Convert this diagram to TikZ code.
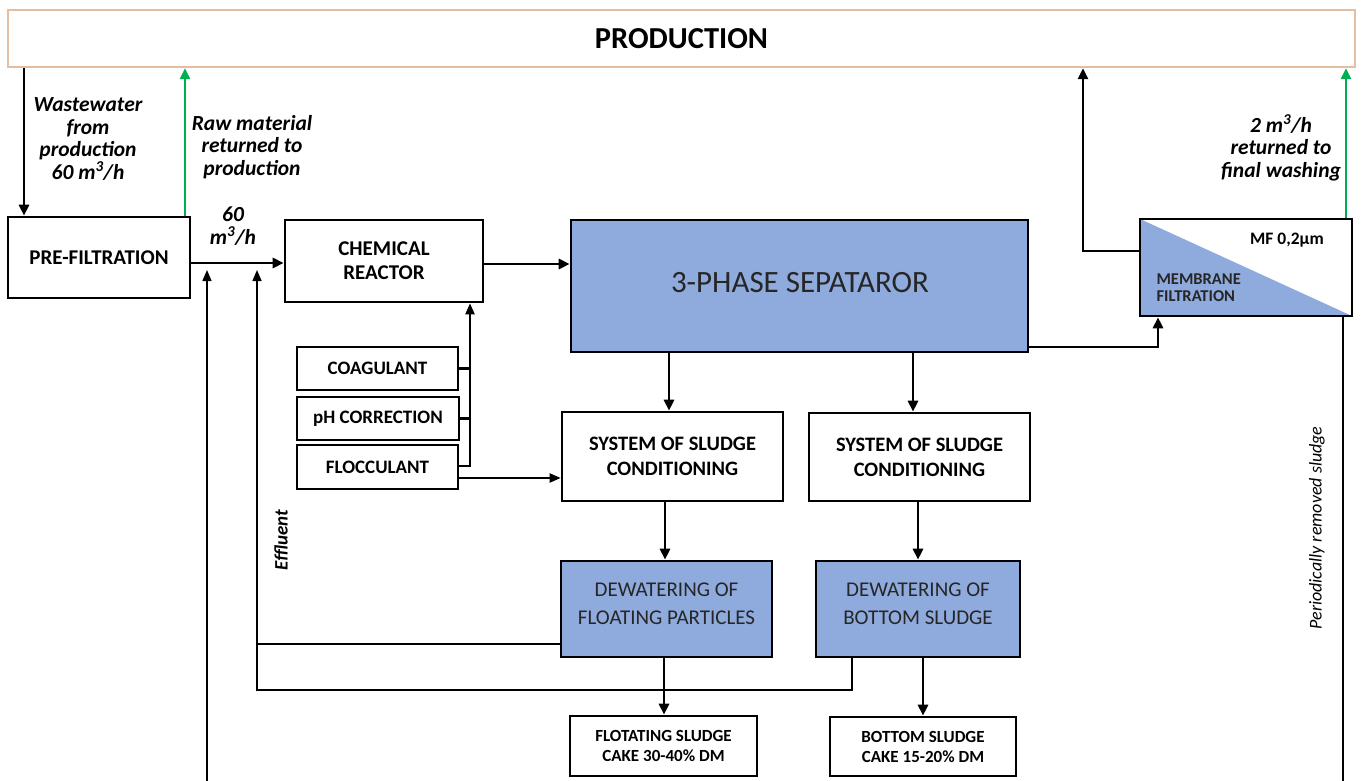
\documentclass[tikz,border=0pt]{standalone}
\usepackage{fontspec}
\setmainfont{Carlito}
\usetikzlibrary{arrows.meta}
\definecolor{sepblue}{RGB}{143,170,220}
\definecolor{flowgreen}{RGB}{0,176,80}
\definecolor{prodborder}{RGB}{228,190,160}
\tikzset{
  box/.style={draw=black, line width=2.6pt, inner sep=2pt, align=center, font=\fontsize{21}{24}\selectfont\bfseries},
  bluebox/.style={box, fill=sepblue, font=\fontsize{21}{28}\selectfont},
  smallbox/.style={box, font=\fontsize{19}{20}\selectfont\bfseries},
  thick arrow/.style={line width=2.9pt, -{Triangle[length=11pt,width=10pt]}},
  green arrow/.style={line width=2.9pt, draw=flowgreen, -{Triangle[length=11pt,width=10pt]}, color=flowgreen},
  thin line/.style={line width=1.5pt},
  thin arrow/.style={line width=2pt, -{Triangle[length=11pt,width=9pt]}},
  lab/.style={align=center, font=\fontsize{21.5}{22.7}\selectfont\bfseries\itshape},
}
\begin{document}
\begin{tikzpicture}[x=1pt,y=-1pt]
\useasboundingbox (0,0) rectangle (1363,781);
\fill[white] (0,0) rectangle (1363,781);
% production
\node[draw=prodborder, line width=2.4pt, minimum width=1347pt, minimum height=57pt, font=\fontsize{30.5}{34}\selectfont\bfseries] (prod) at (681.5,38.5) {PRODUCTION};
% boxes
\node[box, minimum width=182pt, minimum height=81pt] (pre) at (99,257.5) {PRE-FILTRATION};
\node[box, minimum width=198pt, minimum height=82pt] (reac) at (384,261) {CHEMICAL\\REACTOR};
\node[bluebox, minimum width=457pt, minimum height=132pt] (sep) at (799.5,286) {};
\node[font=\fontsize{31}{34}\selectfont, text=black!85] (sept) at (800,283) {3-PHASE SEPATAROR};
\node[draw=none, outer sep=1.3pt, minimum width=212pt, minimum height=97pt] (mem) at (1246,267.5) {};
\fill[sepblue] (1140,219) -- (1352,316) -- (1140,316) -- cycle;
\draw[line width=2.6pt] (1140,219) rectangle (1352,316);
\node[font=\fontsize{17.5}{18}\selectfont\bfseries] (mf) at (1287,240) {MF 0,2µm};
\node[font=\fontsize{16.5}{17}\selectfont\bfseries, align=left, anchor=west, text=black!85] (memt) at (1153,288) {MEMBRANE\\FILTRATION};
\node[smallbox, minimum width=161pt, minimum height=43pt] (coag) at (377.5,368.5) {COAGULANT};
\node[smallbox, minimum width=162pt, minimum height=43pt] (ph) at (378,418.5) {pH CORRECTION};
\node[smallbox, minimum width=161pt, minimum height=44pt] (floc) at (377.5,467) {FLOCCULANT};
\node[box, font=\fontsize{20.5}{25}\selectfont\bfseries, minimum width=221pt, minimum height=89pt] (sys1) at (672.5,456.5) {SYSTEM OF SLUDGE\\CONDITIONING};
\node[box, font=\fontsize{20.5}{25}\selectfont\bfseries, minimum width=221pt, minimum height=88pt] (sys2) at (919.5,457) {SYSTEM OF SLUDGE\\CONDITIONING};
\node[bluebox, minimum width=211pt, minimum height=96pt] (dw1) at (666.5,609) {};
\node[font=\fontsize{21}{28}\selectfont, align=center, text=black!85] (dw1t) at (666.5,604) {DEWATERING OF\\FLOATING PARTICLES};
\node[bluebox, minimum width=204pt, minimum height=96pt] (dw2) at (918,609) {};
\node[font=\fontsize{21}{28}\selectfont, align=center, text=black!85] (dw2t) at (918,604) {DEWATERING OF\\BOTTOM SLUDGE};
\node[smallbox, font=\fontsize{17}{20}\selectfont\bfseries, minimum width=187pt, minimum height=60pt] (cake1) at (663.5,746) {FLOTATING SLUDGE\\CAKE 30-40\% DM};
\node[smallbox, font=\fontsize{17}{20}\selectfont\bfseries, minimum width=186pt, minimum height=59pt] (cake2) at (923,746.5) {BOTTOM SLUDGE\\CAKE 15-20\% DM};
% labels
\node[lab] (l1) at (88,139) {Wastewater\\from\\production\\60 m\textsuperscript{3}/h};
\node[lab] (l2) at (252,147) {Raw material\\returned to\\production};
\node[lab] (l3) at (233,226) {60\\m\textsuperscript{3}/h};
\node[lab] (l4) at (1281,148) {2 m\textsuperscript{3}/h\\returned to\\final washing};
\node[lab, font=\fontsize{19}{22}\selectfont\bfseries\itshape, rotate=90] (l5) at (281,540) {Effluent};
\node[align=center, rotate=90, font=\fontsize{18}{20}\selectfont\itshape] (l6) at (1317,528) {Periodically removed sludge};
% top connectors
\draw[thick arrow] (prod.south -| 24,0) -- (pre.north -| 24,0);
\draw[green arrow] (pre.north -| 185,0) -- (prod.south -| 185,0);
\draw[thick arrow] (pre.east |- 0,263) -- (reac.west |- 0,263);
\draw[thick arrow] (reac.east |- 0,264) -- (sep.west |- 0,264);
\draw[thick arrow] (sep.east |- 0,347) -- (1158,347) -- (mem.south -| 1158,0);
\draw[thick arrow] (mem.west |- 0,251) -- (1083,251) -- (prod.south -| 1083,0);
\draw[green arrow] (mem.north -| 1346,0) -- (prod.south -| 1346,0);
% chemicals
\coordinate (j) at (470,466);
\draw[line width=2.2pt] (coag.east) -- (coag.east -| j);
\draw[line width=2.2pt] (ph.east) -- (ph.east -| j);
\draw[line width=2.2pt, -{Triangle[length=11pt,width=9pt]}] (floc.east |- j) -- (j) -- (reac.south -| j);
\draw[thin arrow] (floc.east |- 0,478) -- (sys1.west |- 0,478);
% separator downwards
\draw[thick arrow] (sep.south -| 669,0) -- (sys1.north -| 669,0);
\draw[thick arrow] (sep.south -| 913,0) -- (sys2.north -| 913,0);
\draw[thick arrow] (sys1.south -| 665,0) -- (dw1.north -| 665,0);
\draw[thick arrow] (sys2.south -| 918,0) -- (dw2.north -| 918,0);
\draw[thick arrow] (dw1.south -| 664,0) -- (cake1.north -| 664,0);
\draw[thick arrow] (dw2.south -| 923,0) -- (cake2.north -| 923,0);
% effluent return
\coordinate (eff) at (257,270);
\draw[thin line] (dw1.west |- 0,644) -- (257,644);
\draw[thin line, -{Triangle[length=11pt,width=9pt]}] (dw2.south -| 852,0) -- (852,690) -- (257,690) -- (eff);
% bottom returns
\coordinate (b1) at (207,781);
\coordinate (b1t) at (207,270);
\draw[thin line, -{Triangle[length=11pt,width=9pt]}] (b1) -- (b1t);
\coordinate (b2) at (1343,781);
\draw[thin line] (mem.south -| b2) -- (b2);
\end{tikzpicture}
\end{document}
